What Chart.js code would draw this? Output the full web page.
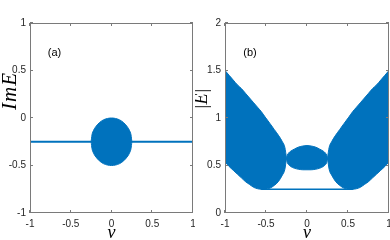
<!DOCTYPE html>
<html><head><meta charset="utf-8">
<script src="https://cdn.jsdelivr.net/npm/chart.js@4.4.1/dist/chart.umd.min.js"></script>
<style>
html,body{margin:0;padding:0;background:#fff;width:390px;height:240px;overflow:hidden}
canvas{position:absolute;top:0}
#ca{left:0}#cb{left:195px}
</style></head><body>
<canvas id="ca" width="195" height="240"></canvas>
<canvas id="cb" width="195" height="240"></canvas>
<script>
// ---- tick labels ----
const xTicks = [-1, -0.5, 0, 0.5, 1];
const yTicksA = [-1, -0.5, 0, 0.5, 1];
const yTicksB = [0, 0.5, 1, 1.5, 2];

// ---- panel (a): Im E vs v ----
const vLineA = [-1, 1];
const imLineA = [-0.25, -0.25];
const vBlobA = [-0.25, -0.24, -0.22, -0.2, -0.15, -0.1, -0.05, 0, 0.05, 0.1, 0.15, 0.2, 0.22, 0.24, 0.25];
const imUpperA = [-0.25, -0.18, -0.13, -0.10, -0.05, -0.02, -0.005, 0, -0.005, -0.02, -0.05, -0.10, -0.13, -0.18, -0.25];
const imLowerA = [-0.25, -0.32, -0.37, -0.40, -0.45, -0.48, -0.495, -0.5, -0.495, -0.48, -0.45, -0.40, -0.37, -0.32, -0.25];

// ---- panel (b): |E| vs v ----
const vLobeL = [-1, -0.95, -0.9, -0.85, -0.8, -0.75, -0.7, -0.65, -0.6, -0.56, -0.51, -0.45, -0.4, -0.35, -0.3, -0.27, -0.25];
const absUpperL = [1.50, 1.45, 1.40, 1.35, 1.31, 1.26, 1.21, 1.16, 1.11, 1.07, 1.01, 0.94, 0.88, 0.82, 0.75, 0.69, 0.58];
const absLowerL = [0.54, 0.49, 0.45, 0.41, 0.37, 0.33, 0.30, 0.27, 0.255, 0.25, 0.25, 0.262, 0.29, 0.33, 0.40, 0.46, 0.58];
const vLobeR = [0.25, 0.27, 0.3, 0.35, 0.4, 0.45, 0.51, 0.56, 0.6, 0.65, 0.7, 0.75, 0.8, 0.85, 0.9, 0.95, 1];
const absUpperR = [0.58, 0.69, 0.75, 0.82, 0.88, 0.94, 1.01, 1.07, 1.11, 1.16, 1.21, 1.26, 1.31, 1.35, 1.40, 1.45, 1.50];
const absLowerR = [0.58, 0.46, 0.40, 0.33, 0.29, 0.262, 0.25, 0.25, 0.255, 0.27, 0.30, 0.33, 0.37, 0.41, 0.45, 0.49, 0.54];
const vBlobB = [-0.25, -0.24, -0.22, -0.2, -0.15, -0.1, -0.05, 0, 0.05, 0.1, 0.15, 0.2, 0.22, 0.24, 0.25];
const absUpperB = [0.57, 0.61, 0.635, 0.65, 0.675, 0.695, 0.705, 0.71, 0.705, 0.695, 0.675, 0.65, 0.635, 0.61, 0.57];
const absLowerB = [0.57, 0.53, 0.505, 0.49, 0.47, 0.46, 0.455, 0.455, 0.455, 0.46, 0.47, 0.49, 0.505, 0.53, 0.57];
const vFlatB = [-0.56, 0.56];
const absFlatB = [0.25, 0.25];

const BLUE = '#0072BD';
const pts = (xs, ys) => xs.map((x, i) => ({x: x, y: ys[i]}));
const area = (xs, ys, fill) => ({data: pts(xs, ys), fill: fill, backgroundColor: BLUE, borderColor: BLUE, borderWidth: 1, pointRadius: 0, cubicInterpolationMode: 'monotone'});
const line = (xs, ys, w) => ({data: pts(xs, ys), fill: false, borderColor: BLUE, borderWidth: w, pointRadius: 0});

const boxPlugin = {
  id: 'box',
  afterDraw(chart) {
    const o = chart.options.plugins.box;
    const {ctx, chartArea: a, scales: {x, y}} = chart;
    ctx.save();
    ctx.strokeStyle = '#7a7a7a';
    ctx.lineWidth = 1;
    ctx.strokeRect(a.left + 0.5, a.top + 0.5, a.right - a.left - 1, a.bottom - a.top - 1);
    ctx.beginPath();
    const tl = 3;
    o.xt.forEach(v => {
      const p = Math.round(x.getPixelForValue(v)) - 0.5;
      ctx.moveTo(p, a.bottom); ctx.lineTo(p, a.bottom - tl);
      ctx.moveTo(p, a.top); ctx.lineTo(p, a.top + tl);
    });
    o.yt.forEach(v => {
      const p = Math.round(y.getPixelForValue(v)) - 0.5;
      ctx.moveTo(a.left, p); ctx.lineTo(a.left + tl, p);
      ctx.moveTo(a.right, p); ctx.lineTo(a.right - tl, p);
    });
    ctx.stroke();
    // panel tag
    ctx.fillStyle = '#000';
    ctx.font = '11px "Liberation Sans", Arial, sans-serif';
    ctx.textAlign = 'center'; ctx.textBaseline = 'middle';
    ctx.fillText(o.tag, o.tagX, 53);
    // axis titles
    ctx.font = 'italic 18px "Liberation Serif", "DejaVu Serif", serif';
    ctx.fillText('v', (a.left + a.right) / 2, 233);
    ctx.translate(o.yTitleX, o.yTitleY);
    ctx.rotate(-Math.PI / 2);
    ctx.font = 'italic ' + o.yTitleSize + 'px "Liberation Serif", "DejaVu Serif", serif';
    if (o.yLetterSpacing) ctx.letterSpacing = o.yLetterSpacing;
    ctx.fillText(o.yTitle, 0, 0);
    ctx.restore();
  }
};

const fmt = v => String(v);

function makeChart(id, datasets, yMin, yMax, yTicks, padRight, extra) {
  return new Chart(document.getElementById(id), {
    type: 'line',
    data: {datasets: datasets},
    plugins: [boxPlugin],
    options: {
      responsive: false, animation: false, devicePixelRatio: 1,
      layout: {padding: {top: 23, right: padRight, left: 0, bottom: 0}},
      plugins: {legend: {display: false}, tooltip: {enabled: false},
        box: Object.assign({xt: xTicks, yt: yTicks}, extra)},
      scales: {
        x: {
          type: 'linear', min: -1, max: 1,
          afterBuildTicks: s => { s.ticks = xTicks.map(v => ({value: v})); },
          afterFit: s => { s.height = 27; s.paddingLeft = 0; s.paddingRight = 0; },
          grid: {display: false, drawTicks: false}, border: {display: false},
          ticks: {padding: 5, color: '#262626', callback: fmt, font: {family: '"Liberation Sans", Arial, sans-serif', size: 10}, maxRotation: 0, autoSkip: false}
        },
        y: {
          type: 'linear', min: yMin, max: yMax,
          afterBuildTicks: s => { s.ticks = yTicks.map(v => ({value: v})); },
          afterFit: s => { s.width = 30; s.paddingTop = 0; s.paddingBottom = 0; },
          grid: {display: false, drawTicks: false}, border: {display: false},
          ticks: {padding: 4, color: '#262626', callback: fmt, font: {family: '"Liberation Sans", Arial, sans-serif', size: 10}, autoSkip: false}
        }
      }
    }
  });
}

makeChart('ca', [
  area(vBlobA, imUpperA, '+1'),
  area(vBlobA, imLowerA, false),
  line(vLineA, imLineA, 2)
], -1, 1, yTicksA, 2, {tag: '(a)', tagX: 54.5, yTitle: 'ImE', yTitleX: 10, yTitleY: 91, yTitleSize: 21, yLetterSpacing: '1px'});

makeChart('cb', [
  area(vLobeL, absUpperL, '+1'),
  area(vLobeL, absLowerL, false),
  area(vLobeR, absUpperR, '+1'),
  area(vLobeR, absLowerR, false),
  area(vBlobB, absUpperB, '+1'),
  area(vBlobB, absLowerB, false),
  line(vFlatB, absFlatB, 1.5)
], 0, 2, yTicksB, 1, {tag: '(b)', tagX: 55, yTitle: '|E|', yTitleX: 7, yTitleY: 99, yTitleSize: 18});
</script>
</body></html>
